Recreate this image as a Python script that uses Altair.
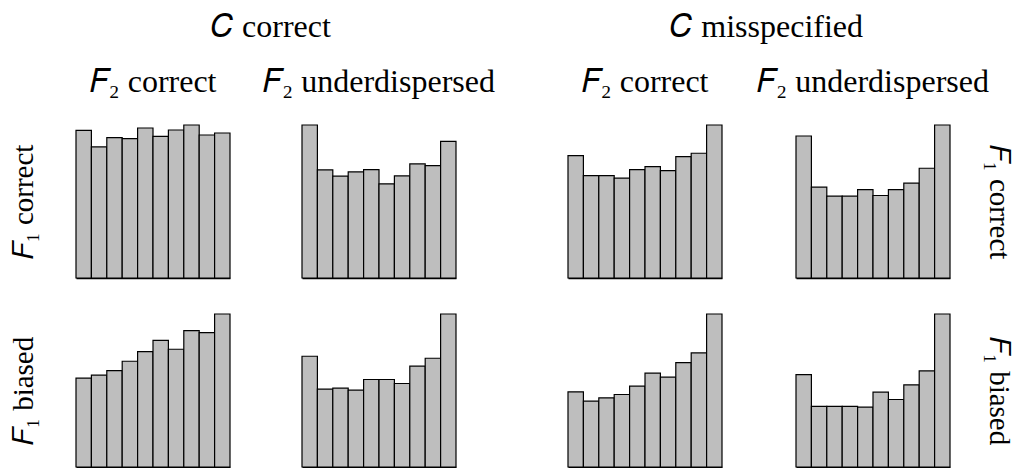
import altair as alt
import pandas as pd

# rank bins
bins = list(range(1, 11))

# C correct
cc_f1c_f2c = [444, 394, 422, 419, 451, 426, 445, 460, 430, 436]
cc_f1c_f2u = [460, 325, 306, 319, 326, 283, 307, 343, 338, 411]
cc_f1b_f2c = [267, 276, 290, 318, 347, 381, 354, 410, 404, 460]
cc_f1b_f2u = [333, 234, 237, 231, 263, 263, 251, 303, 327, 460]
# C misspecified
cm_f1c_f2c = [368, 308, 308, 300, 326, 335, 323, 365, 375, 460]
cm_f1c_f2u = [427, 273, 246, 246, 266, 248, 266, 285, 330, 460]
cm_f1b_f2c = [226, 198, 208, 218, 243, 282, 270, 314, 343, 460]
cm_f1b_f2u = [278, 182, 182, 182, 180, 225, 203, 247, 289, 460]

group_titles = ["𝐶 correct", "𝐶 misspecified"]
col_titles = ["𝐹₂ correct", "𝐹₂ underdispersed"]
row_titles = ["𝐹₁ correct", "𝐹₁ biased"]

FONT = "Liberation Serif"
FS = 32
FS_ROW = 29
W, H = 154, 153


def panel(vals, title=None, left=None, right=None):
    df = pd.DataFrame({"bin": bins, "count": vals})
    xaxis = alt.Axis(labels=False, ticks=False, title=None, grid=False,
                     domain=True, domainColor="black", domainWidth=1.5)
    if left is not None:
        yaxis = alt.Axis(title=left, orient="left", labels=False, ticks=False,
                         domain=False, grid=False, titleAngle=270,
                         titleFont=FONT, titleFontSize=FS_ROW, titleFontWeight="normal",
                         titleColor="black", titlePadding=38)
    elif right is not None:
        yaxis = alt.Axis(title=right, orient="right", labels=False, ticks=False,
                         domain=False, grid=False, titleAngle=90,
                         titleFont=FONT, titleFontSize=FS_ROW, titleFontWeight="normal",
                         titleColor="black", titlePadding=33)
    else:
        yaxis = None
    ch = alt.Chart(df).mark_bar(fill="#bebebe", stroke="black", strokeWidth=1.2).encode(
        x=alt.X("bin:O", scale=alt.Scale(paddingInner=0, paddingOuter=0), axis=xaxis),
        y=alt.Y("count:Q", scale=alt.Scale(domain=[0, 460], nice=False, zero=True), axis=yaxis),
    )
    props = dict(width=W, height=H)
    if title is not None:
        props["title"] = alt.TitleParams(title, font=FONT, fontSize=FS, fontWeight="normal",
                                         color="black", anchor="middle", baseline="alphabetic",
                                         offset=0)
    return ch.properties(**props)


def group(gtitle, r1, r2, left_side, colspace, shift):
    cells = [
        panel(r1[0], title=col_titles[0], left=row_titles[0] if left_side else None),
        panel(r1[1], title=col_titles[1], right=None if left_side else row_titles[0]),
        panel(r2[0], left=row_titles[1] if left_side else None),
        panel(r2[1], right=None if left_side else row_titles[1]),
    ]
    return alt.concat(*cells, columns=2, bounds="flush",
                      spacing=alt.RowColnumber(row=36, column=colspace)).properties(
        title=alt.TitleParams(gtitle, font=FONT, fontSize=FS, fontWeight="normal",
                              color="black", anchor="middle", baseline="alphabetic",
                              offset=-3, dx=shift)
    )


g1 = group(group_titles[0], [cc_f1c_f2c, cc_f1c_f2u], [cc_f1b_f2c, cc_f1b_f2u], True, 72, 19)
g2 = group(group_titles[1], [cm_f1c_f2c, cm_f1c_f2u], [cm_f1b_f2c, cm_f1b_f2u], False, 74, -23)

chart = alt.hconcat(g1, g2, spacing=72).properties(
    padding={"left": 1, "right": 4, "top": 3, "bottom": 0}
).configure(background="white", view=alt.ViewConfig(stroke="transparent", strokeWidth=0))

chart.save("out.html", embed_options={"renderer": "svg", "actions": False})
